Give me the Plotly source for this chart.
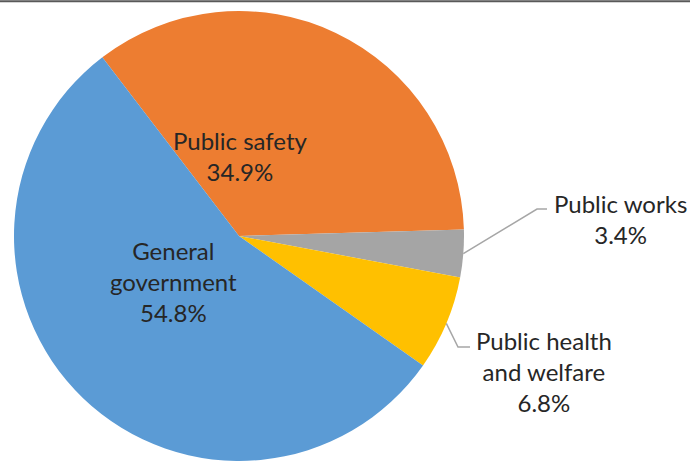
import math
import plotly.graph_objects as go

# ---- data ----
categories = ["Public safety", "Public works", "Public health<br>and welfare", "General<br>government"]
values = [34.9, 3.4, 6.8, 54.8]
colors = ["#ED7D31", "#A5A5A5", "#FFC000", "#5B9BD5"]

W, H = 690, 461
CX, CY, R = 239, 236, 225  # pie centre / radius in px
START = -37.4              # first slice start angle (deg, clockwise from 12 o'clock)

fig = go.Figure(go.Pie(
    labels=categories,
    values=values,
    sort=False,
    direction="clockwise",
    rotation=START,
    marker=dict(colors=colors, line=dict(width=0)),
    textinfo="none",
    hoverinfo="label+percent",
    showlegend=False,
    domain=dict(x=[(CX - R) / W, (CX + R) / W], y=[(H - CY - R) / H, (H - CY + R) / H]),
))

def px(x, y):
    return x / W, 1 - y / H

# label positions (px) -- layout only
label_pos = [(240, 156), (620, 219), (544, 371), (173, 281)]
font = dict(family="Lato, 'Open Sans', sans-serif", size=24, color="#262626")
annotations = []
for cat, v, (lx, ly) in zip(categories, values, label_pos):
    ax, ay = px(lx, ly)
    annotations.append(dict(x=ax, y=ay, xref="paper", yref="paper",
                            text=f"{cat}<br>{v:.1f}%", showarrow=False,
                            xanchor="center", yanchor="middle", align="center",
                            font=font))

# leader lines for outside labels, start at slice mid-angle on the edge
total = sum(values)
cum = 0
mids = []
for v in values:
    mids.append(START + (cum + v / 2) / total * 360)
    cum += v

def edge(angle_deg, rr=R):
    a = math.radians(angle_deg)
    return CX + rr * math.sin(a), CY - rr * math.cos(a)

shapes = []
leaders = {1: [(537, 209), (547, 209)], 2: [(458, 347), (470, 347)]}
for idx, pts in leaders.items():
    ex, ey = edge(mids[idx])
    path_pts = [(ex, ey)] + pts
    d = ""
    for i, (x, y) in enumerate(path_pts):
        pxx, pyy = px(x, y)
        d += ("M" if i == 0 else " L") + f" {pxx} {pyy}"
    shapes.append(dict(type="path", path=d, xref="paper", yref="paper",
                       line=dict(color="#A6A6A6", width=1.5)))

# top border line
shapes.append(dict(type="line", xref="paper", yref="paper", x0=0, x1=1,
                   y0=1 - 1.2 / H, y1=1 - 1.2 / H, line=dict(color="#595959", width=2)))

fig.update_layout(
    width=W, height=H,
    margin=dict(l=0, r=0, t=0, b=0),
    paper_bgcolor="white", plot_bgcolor="white",
    annotations=annotations, shapes=shapes,
)

fig.write_html("out.html")
